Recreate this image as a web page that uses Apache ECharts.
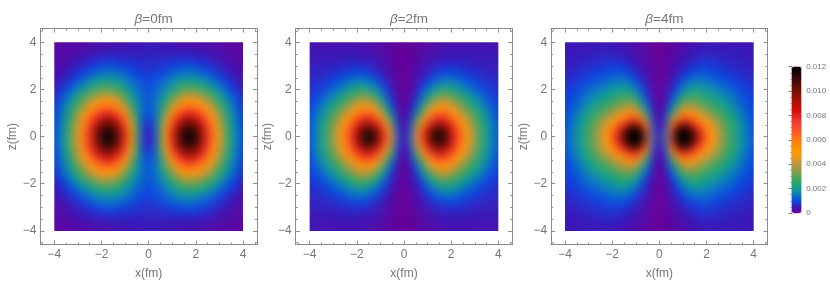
<!DOCTYPE html>
<html><head><meta charset="utf-8">
<style>html,body{margin:0;padding:0;background:#fff}#c{width:830px;height:292px}</style>
<script src="https://cdn.jsdelivr.net/npm/echarts@6/dist/echarts.min.js"></script>
</head><body><div id="c"></div>
<script>
// Axis values
const gridCoords = [-4.25,-4,-3.75,-3.5,-3.25,-3,-2.75,-2.5,-2.25,-2,-1.75,-1.5,-1.25,-1,-0.75,-0.5,-0.25,0,0.25,0.5,0.75,1,1.25,1.5,1.75,2,2.25,2.5,2.75,3,3.25,3.5,3.75,4,4.25];
const majorTicks = [-4,-2,0,2,4];
const minorTicks = [-4.5,-3.5,-3,-2.5,-1.5,-1,-0.5,0.5,1,1.5,2.5,3,3.5,4.5];
const titles = ['0','2','4'];

// Values, in units of 1e-4, for the quadrant x>=0, z>=0.
// Rows run z=0,0.25,...,4; columns x=0,0.25,...,4. The plots are mirror-symmetric in x and z.
const beta0 = [
[2,10,30,55,80,100,115,120,112,95,78,60,45,32,22,15,10],
[3,10,29,53,78,98,112,117,109,93,76,59,44,31,22,15,10],
[5,11,27,49,72,90,103,107,101,87,72,56,42,30,21,14,10],
[8,12,24,43,63,79,90,94,89,78,65,52,39,28,20,14,9],
[10,13,22,36,52,66,76,80,76,67,56,46,35,26,18,13,9],
[11,13,20,30,43,54,62,65,62,55,47,38,30,23,17,12,8],
[11,13,18,25,34,43,50,52,50,45,40,33,26,20,15,11,7.5],
[11,13,16,21,28,34,39,41,40,36,32,27,21,16,12.5,9.5,6.5],
[10.5,12,14,17,22,27,30,31,30,28,24,20,17,13,10,7.5,5.5],
[10,11,13,15,18,21,23,24,23,21,19,16,13,10.5,8,6,4.5],
[9,10,11,13,15,17,18,18,18,16,14,12,10,8,6,4.5,3.5],
[8,9,9.5,10.5,12,13,14,14,13.5,12,11,9.5,8,6,4.5,3.5,2.8],
[7,7.5,8,9,9.5,10,11,11,10.5,9.5,8.5,7,6,4.5,3.5,2.8,2.3],
[6.5,6.5,7,7,7.5,8,8,8,7.5,7,6.5,5.5,4.5,3.5,2.8,2.3,1.9],
[6,5.8,5.8,5.6,5.6,5.6,5.6,5.5,5.2,5,4.5,3.8,3.2,2.6,2.2,1.8,1.6],
[5.2,5.2,5,4.8,4.6,4.4,4.2,4,3.8,3.5,3,2.7,2.3,2,1.7,1.4,1.3],
[4.5,4.5,4.2,4,3.7,3.4,3.2,3,2.8,2.5,2.2,2,1.8,1.5,1.3,1.1,1]
];
const beta2 = [
[0,12,42,68,92,112,120,110,90,72,58,46,36,27,21,15,11],
[0,11,40,65,88,107,113,105,87,70,57,45,35,27,21,15,11],
[0,9,32,55,76,92,98,93,79,65,53,43,34,26,20,15,11],
[0,7,23,42,61,75,82,78,68,57,47,38,31,24,19,14,10.5],
[0,5,16,30,46,59,66,64,56,48,40,33,27,22,17,13,10],
[0,3.5,11,22,35,46,52,52,46,40,34,28,23,19,15,12,9.5],
[0,2.5,8,16,26,35,41,42,38,33,28,24,20,16,13,10.5,9],
[0,2,6,12,19,26,31,33,30,26,23,19,16,13.5,11,9.5,8],
[0,1.5,4.5,9,14,19,23,25,23,21,18,15,13,11,9.2,8.2,7.5],
[0,1.2,3.5,6.8,10.2,13.5,16.5,18,18,16,14,12,10.5,9.2,8,7.5,7],
[0,1,2.8,5.2,7.8,10.2,12.2,13.5,13.5,12.5,11,10,9,8,7,6.5,6.5],
[0,0.8,2.2,4,5.8,7.5,9,10,10,9.5,8.8,8,7.2,6.6,6.2,6,6],
[0,0.7,1.8,3.2,4.5,5.8,6.8,7.3,7.5,7.2,6.8,6.4,6,5.8,5.5,5.5,5.5],
[0,0.6,1.5,2.5,3.5,4.5,5,5.5,5.8,5.8,5.6,5.4,5.2,5,5,5,5],
[0,0.5,1.2,2,2.8,3.5,4.1,4.5,4.7,4.7,4.7,4.7,4.6,4.5,4.5,4.5,4.5],
[0,0.4,1,1.6,2.3,2.9,3.4,3.8,4,4,4,4,4,4,4,4,4],
[0,0.3,0.8,1.3,1.8,2.3,2.8,3.2,3.4,3.5,3.5,3.5,3.5,3.5,3.5,3.5,3.5]
];
const beta4 = [
[0,16,72,120,120,120,105,82,63,50,40,33,27,22,18,14,11],
[0,14,66,115,120,118,98,78,61,49,40,32,27,22,18,14,11],
[0,10,48,84,105,95,78,66,54,45,37,31,26,21,17,14,10.5],
[0,8,32,57,75,70,60,52,45,39,33,28,24,20,16,13,10],
[0,6,21,39,54,54,47,42,37,33,29,25,22,18,15,12,10],
[0,5,15,26,39,42,38,35,31,28,25,22,19,16,13,11,9.5],
[0,3.5,11,19,29,33,31,29,26,24,21,19,17,14,12,10.5,9],
[0,2.5,8,14,21,25,26,24,22,20,18,16,15,13,11,10,8.5],
[0,2,6,11,16,20,21,20,19,17,16,14,13,11.5,10,9,8],
[0,1.5,4.5,8.5,12.5,15.5,17,16.5,15.5,14.5,13,12,11,10,9,8,7],
[0,1.2,3.5,6.5,9.5,12,13.5,13.5,13,12,11,10,9.5,8.5,8,7,6.5],
[0,1,2.7,4.8,7,9,10.5,11,11,10,9.5,8.5,8,7.5,7,6.5,6],
[0,0.8,2.2,3.7,5.3,7,8.2,9,9,8.5,8,7.5,7,6.5,6,6,5.5],
[0,0.7,1.8,3,4.3,5.5,6.5,7.2,7.5,7.2,7,6.5,6,6,5.5,5.5,5],
[0,0.6,1.5,2.5,3.5,4.5,5.2,6,6.2,6.2,6,5.8,5.5,5.5,5,5,5],
[0,0.5,1.2,2,2.8,3.6,4.4,5,5.2,5.2,5,5,5,5,5,4.8,4.5],
[0,0.4,1,1.6,2.2,3,3.6,4,4.5,4.5,4.5,4.5,4.5,4.5,4.5,4.5,4.5]
];
const panels = [beta0, beta2, beta4];

// Colour scale, one stop per 0.0005
const colorStops = ['#660099','#3a18b8','#0a46e0','#0a7cc0','#129e90','#2ca46c','#5aa450','#8f9c4e','#bc9440','#e89a20','#ff9a00','#ff8a08','#ff7a10','#ff6020','#f84a30','#f03a30','#e02020','#d00a08','#b50d05','#961005','#781005','#581008','#380a08','#1c0504','#000000'];

// Layout
const centers = [148.65, 404, 659.35];
const cy = 136.65, unit = 23.59, axisEnd = 4.59;
const halfW = axisEnd * unit, halfH = 108;
const gray = '#767676', frame = '#8c8c8c';
const font = '"Liberation Sans", Arial, sans-serif';

const grid = [], xAxis = [], yAxis = [], series = [], title = [], clip = [];
const tickLabel = v => String(v).replace('-', '\u2212');

function valueAxis(gi, position, major, name) {
  const base = {
    type: 'value', gridIndex: gi, position, min: -axisEnd, max: axisEnd, zlevel: 1,
    splitLine: { show: false },
    axisLine: { show: true, onZero: false, lineStyle: { color: frame, width: 1 } }
  };
  if (major) return Object.assign(base, {
    axisTick: { show: true, inside: true, length: 4, customValues: majorTicks, lineStyle: { color: frame } },
    axisLabel: { show: name !== undefined, customValues: majorTicks, margin: 4, color: gray, fontSize: 12, fontFamily: font, formatter: tickLabel },
    name: name, nameLocation: 'middle', nameGap: position === 'bottom' ? 23 : 16,
    nameTextStyle: { color: gray, fontSize: 12, fontFamily: font }
  });
  return Object.assign(base, {
    axisTick: { show: true, inside: true, length: 2, customValues: minorTicks, lineStyle: { color: frame } },
    axisLabel: { show: false }
  });
}

panels.forEach((rows, p) => {
  const cx = centers[p];
  const gi = grid.length;
  grid.push({ left: cx - halfW, top: cy - halfH, width: 2 * halfW, height: 2 * halfH, zlevel: 1 });
  xAxis.push(valueAxis(gi, 'bottom', true, 'x(fm)'), valueAxis(gi, 'bottom', false), valueAxis(gi, 'top', true), valueAxis(gi, 'top', false));
  yAxis.push(valueAxis(gi, 'left', true, 'z(fm)'), valueAxis(gi, 'left', false), valueAxis(gi, 'right', true), valueAxis(gi, 'right', false));
  // heat grid: the band past +-4 only repeats the edge values and is trimmed away below
  const hi = grid.length;
  const cell = unit * 0.25, n = gridCoords.length, mid = (n - 1) / 2;
  grid.push({ left: cx - n * cell / 2, top: cy - n * cell / 2, width: n * cell, height: n * cell });
  const xi = xAxis.length, yi = yAxis.length;
  xAxis.push({ type: 'category', gridIndex: hi, data: gridCoords.map(String), show: false });
  yAxis.push({ type: 'category', gridIndex: hi, data: gridCoords.map(String), show: false });
  const data = [];
  gridCoords.forEach((z, j) => gridCoords.forEach((x, i) => {
    const r = Math.min(16, Math.abs(j - mid)), c = Math.min(16, Math.abs(i - mid));
    data.push([i, j, rows[r][c] * 1e-4]);
  }));
  series.push({ type: 'heatmap', xAxisIndex: xi, yAxisIndex: yi, data, progressive: 0, silent: true, zlevel: 0 });
  title.push({
    text: '{b|\u03b2}=' + titles[p] + 'fm', left: cx, top: 7, textAlign: 'center', zlevel: 1,
    textStyle: { color: gray, fontSize: 13.5, fontWeight: 'normal', fontFamily: font,
      rich: { b: { fontStyle: 'italic', color: gray, fontSize: 13.5, fontFamily: font } } }
  });
  const e = 4 * unit;
  clip.push(`M${cx - e} ${cy - e}H${cx + e}V${cy + e}H${cx - e}Z`);
});

// colour bar scale
const barLeft = 791.7, barTop = 66.7, barW = 9.5, barH = 146.3;
const bi = grid.length;
grid.push({ left: barLeft, top: barTop, width: barW, height: barH, show: true, borderColor: '#b3a7c4', borderWidth: 1, backgroundColor: 'transparent', zlevel: 1 });
xAxis.push({ type: 'value', gridIndex: bi, show: false, min: 0, max: 1 });
yAxis.push({
  type: 'value', gridIndex: bi, position: 'right', min: 0, max: 0.012, interval: 0.002, zlevel: 1,
  splitLine: { show: false }, axisLine: { show: false },
  axisTick: { show: true, inside: true, length: 3, lineStyle: { color: '#777' } },
  minorTick: { show: true, splitNumber: 4, length: 1.5, lineStyle: { color: '#999' } },
  axisLabel: { margin: 5, fontSize: 8, color: gray, fontFamily: font, formatter: v => v === 0 ? '0' : v.toFixed(3) }
});

const chart = echarts.init(document.getElementById('c'), null, { renderer: 'canvas' });
chart.setOption({
  animation: false, backgroundColor: 'transparent', title, grid, xAxis, yAxis, series,
  tooltip: { show: false },
  visualMap: {
    type: 'continuous', min: 0, max: 0.012, seriesIndex: series.map((s, i) => i),
    left: barLeft, top: barTop, itemWidth: barW, itemHeight: barH, padding: 0,
    calculable: false, realtime: false, hoverLink: false, text: null, showLabel: false,
    inRange: { color: colorStops }, zlevel: 1
  }
});
// The reference is a smooth density image: soften the heat layer only and trim it to the plot squares
const canvases = chart.getDom().querySelectorAll('canvas');
canvases[0].style.filter = 'blur(4px)';
canvases[0].style.clipPath = `path('${clip.join(' ')}')`;
if (canvases[1]) canvases[1].style.filter = 'blur(0.35px)';
</script></body></html>
